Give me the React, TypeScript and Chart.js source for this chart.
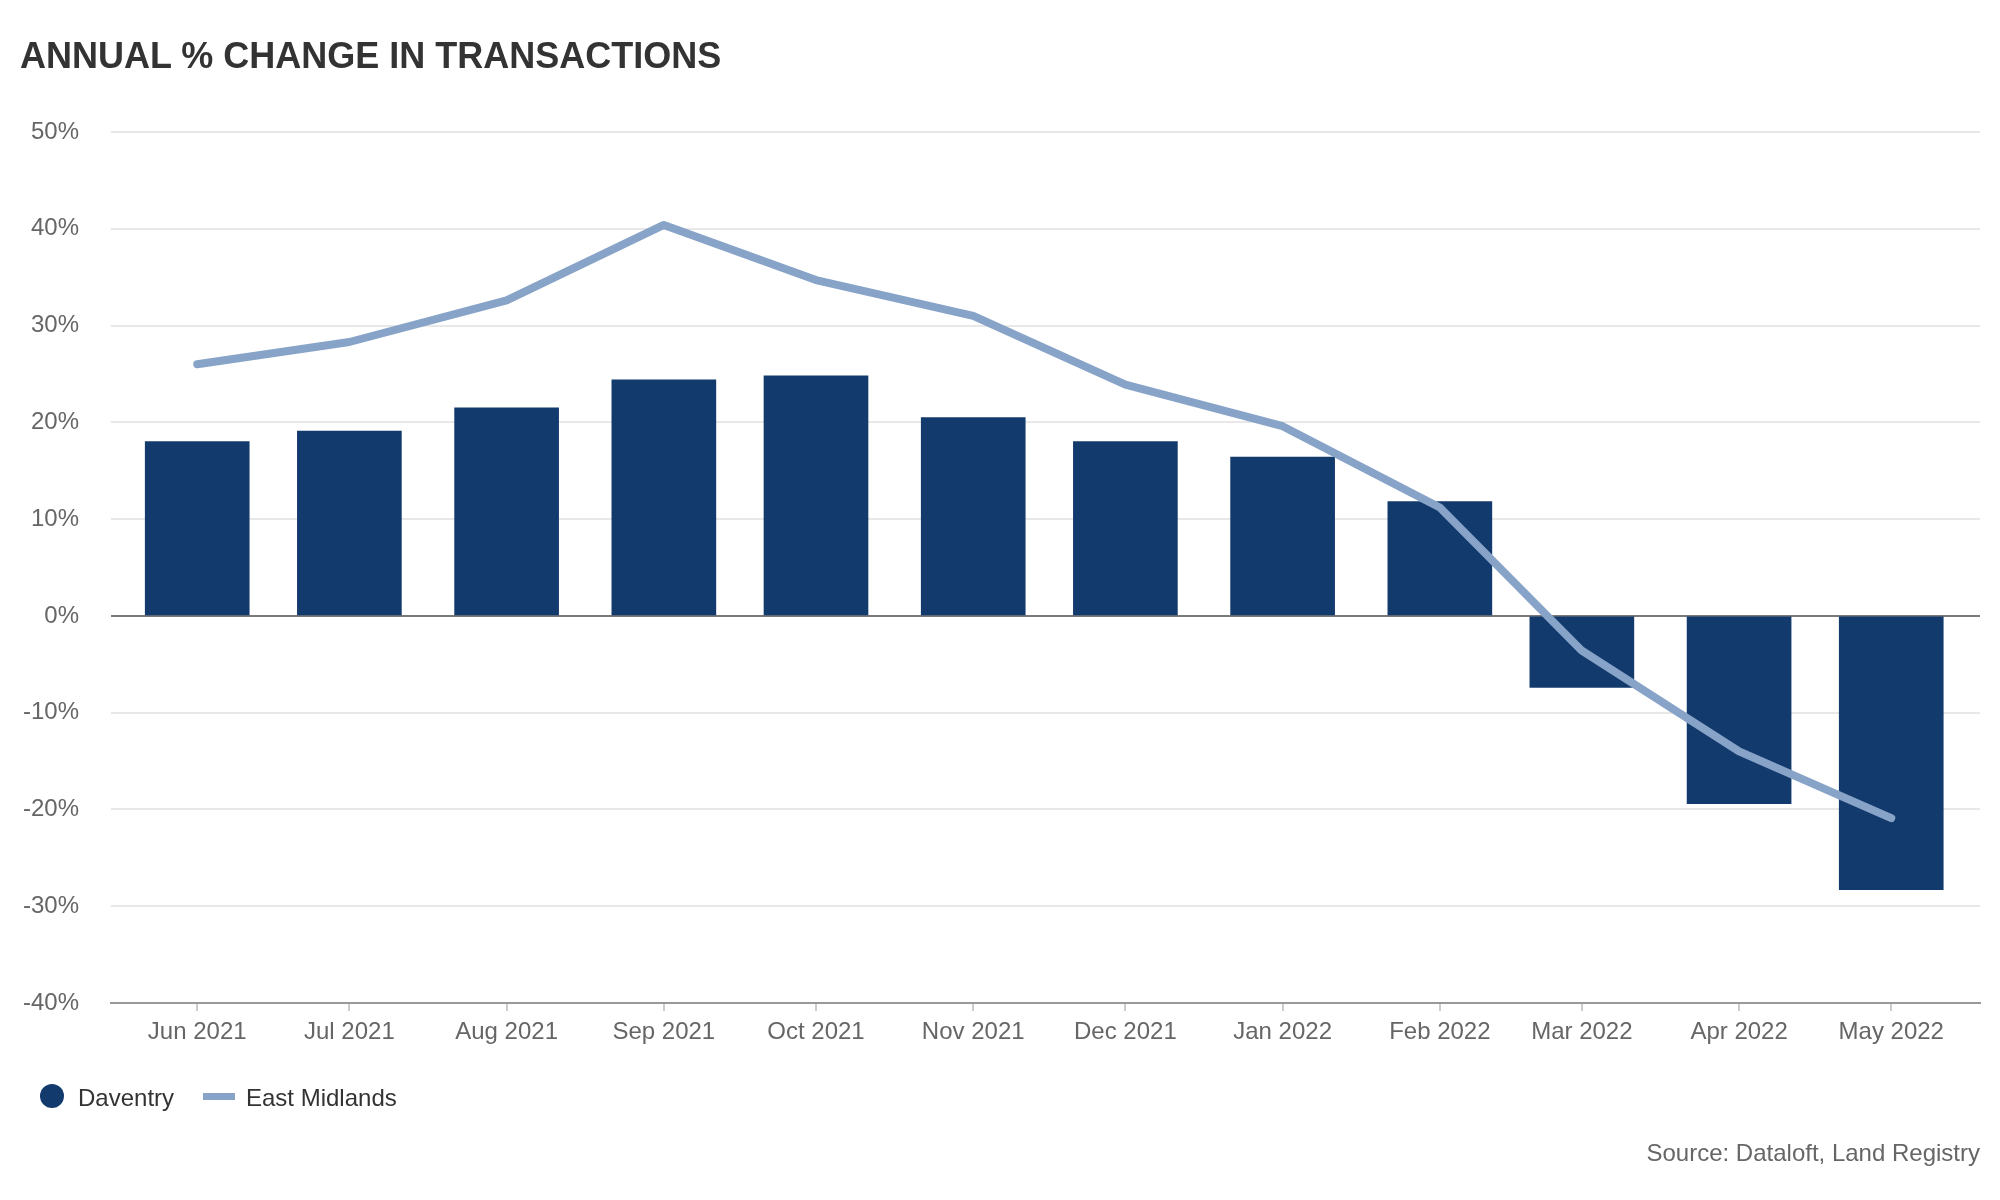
import React, { useEffect, useRef } from 'react';
import { Chart, registerables } from 'chart.js';

Chart.register(...registerables);

const months = [
  '2021-06-01', '2021-07-01', '2021-08-01', '2021-09-01', '2021-10-01', '2021-11-01',
  '2021-12-01', '2022-01-01', '2022-02-01', '2022-03-01', '2022-04-01', '2022-05-01',
];
const monthLabels = [
  'Jun 2021', 'Jul 2021', 'Aug 2021', 'Sep 2021', 'Oct 2021', 'Nov 2021',
  'Dec 2021', 'Jan 2022', 'Feb 2022', 'Mar 2022', 'Apr 2022', 'May 2022',
];
const daventry = [18.0, 19.1, 21.5, 24.4, 24.8, 20.5, 18.0, 16.4, 11.8, -7.4, -19.4, -28.3];
const eastMidlands = [26.0, 28.3, 32.6, 40.4, 34.7, 31.0, 23.9, 19.6, 11.2, -3.6, -14.0, -20.9];
const yMin = -40;
const yMax = 50;
const yStep = 10;

const FONT = '"Liberation Sans", Arial, Helvetica, sans-serif';
const BAR_COLOR = '#133a6c';
const LINE_COLOR = '#87a3c8';

// days since first month, so spacing follows month lengths like a time axis
const DAY = 86400000;
const dayX = months.map((m) => (Date.parse(m) - Date.parse(months[0])) / DAY);

const App: React.FC = () => {
  const canvasRef = useRef<HTMLCanvasElement>(null);

  useEffect(() => {
    if (!canvasRef.current) return;
    const ctx = canvasRef.current.getContext('2d');
    if (!ctx) return;

    const chart = new Chart(ctx, {
      type: 'bar',
      data: {
        datasets: [
          {
            type: 'line',
            label: 'East Midlands',
            data: dayX.map((x, i) => ({ x, y: eastMidlands[i] })),
            borderColor: LINE_COLOR,
            borderWidth: 8,
            pointRadius: 0,
            tension: 0,
            borderJoinStyle: 'round',
            borderCapStyle: 'round',
            order: 0,
          },
          {
            type: 'bar',
            label: 'Daventry',
            data: dayX.map((x, i) => ({ x, y: daventry[i] })),
            backgroundColor: BAR_COLOR,
            borderWidth: 0,
            barThickness: 104,
            order: 1,
          },
        ],
      },
      options: {
        animation: false,
        responsive: true,
        maintainAspectRatio: false,
        devicePixelRatio: 1,
        layout: { padding: { top: 132, bottom: 137, left: 0, right: 20 } },
        plugins: {
          legend: { display: false },
          title: { display: false },
          tooltip: { enabled: false },
        },
        scales: {
          x: {
            type: 'linear',
            offset: false,
            min: dayX[0] - 17,
            max: dayX[dayX.length - 1] + 17.5,
            afterBuildTicks: (scale: any) => {
              scale.ticks = dayX.map((v) => ({ value: v }));
            },
            afterFit: (scale: any) => {
              scale.height = 60;
            },
            ticks: {
              autoSkip: false,
              maxRotation: 0,
              padding: 7,
              color: '#666666',
              font: { family: FONT, size: 24 },
              callback: (_v: any, i: number) => monthLabels[i],
            },
            grid: {
              offset: false,
              drawOnChartArea: false,
              drawTicks: true,
              tickLength: 8,
              color: '#cccccc',
              lineWidth: 2,
            },
            border: { display: true, color: '#999999', width: 2 },
          },
          y: {
            min: yMin,
            max: yMax,
            afterFit: (scale: any) => {
              scale.width = 111;
            },
            ticks: {
              stepSize: yStep,
              padding: 32,
              color: '#666666',
              font: { family: FONT, size: 24 },
              callback: (v: any) => `${v}%`,
            },
            grid: {
              drawTicks: false,
              lineWidth: 2,
              color: (c: any) => (c.tick && c.tick.value === 0 ? '#7a7a7a' : '#e8e8e8'),
            },
            border: { display: false },
          },
        },
      },
    });

    return () => {
      chart.destroy();
    };
  }, []);

  const text: React.CSSProperties = {
    position: 'absolute',
    fontFamily: FONT,
    fontSize: 24,
    lineHeight: '24px',
    whiteSpace: 'nowrap',
  };

  return (
    <div style={{ position: 'fixed', left: 0, top: 0, width: 2000, height: 1200, background: '#ffffff' }}>
      <div style={{ position: 'absolute', left: 0, top: 0, width: 2000, height: 1200 }}>
        <canvas ref={canvasRef}></canvas>
      </div>
      <div
        style={{
          ...text,
          left: 20,
          top: 38,
          fontSize: 36,
          lineHeight: '36px',
          fontWeight: 'bold',
          color: '#333333',
        }}
      >
        ANNUAL % CHANGE IN TRANSACTIONS
      </div>
      <div style={{ position: 'absolute', left: 40, top: 1084, width: 24, height: 24, borderRadius: 12, background: BAR_COLOR }} />
      <div style={{ ...text, left: 78, top: 1086, color: '#333333' }}>Daventry</div>
      <div style={{ position: 'absolute', left: 203, top: 1093, width: 32, height: 7, background: LINE_COLOR }} />
      <div style={{ ...text, left: 246, top: 1086, color: '#333333' }}>East Midlands</div>
      <div style={{ ...text, right: 20, top: 1141, color: '#666666' }}>Source: Dataloft, Land Registry</div>
    </div>
  );
};

export default App;
